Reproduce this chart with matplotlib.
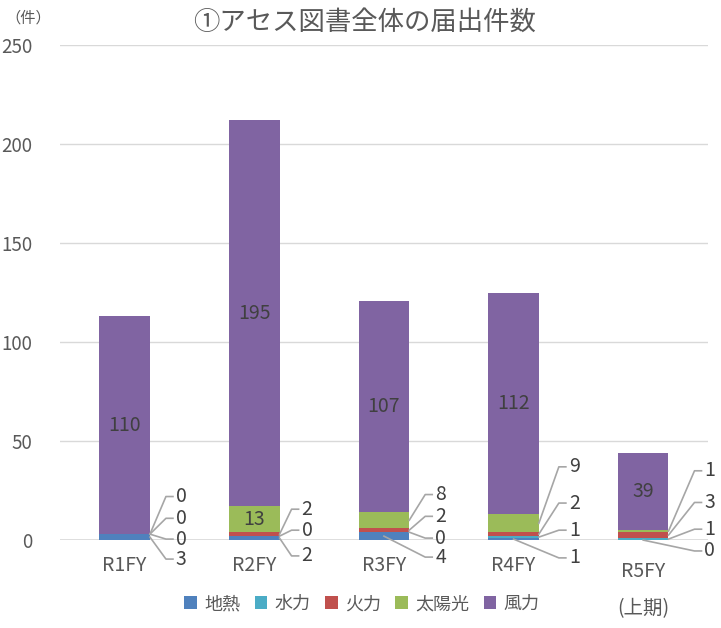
import numpy as np
import matplotlib
matplotlib.use("Agg")
import matplotlib.pyplot as plt
import matplotlib.transforms as mtransforms

plt.rcParams['font.family'] = ['Noto Sans CJK JP', 'DejaVu Sans']

categories = ["R1FY", "R2FY", "R3FY", "R4FY", "R5FY\n(上期)"]
series_names = ["地熱", "水力", "火力", "太陽光", "風力"]
geothermal = [3, 2, 4, 1, 0]
hydro = [0, 0, 0, 1, 1]
thermal = [0, 2, 2, 2, 3]
solar = [0, 13, 8, 9, 1]
wind = [110, 195, 107, 112, 39]
colors = ["#4F81BD", "#4BACC6", "#C0504D", "#9BBB59", "#8064A2"]

values = np.array([geothermal, hydro, thermal, solar, wind], dtype=float)

# where the outside labels sit (series index, label y) per bar
outside = [
    [(3, 22), (2, 11), (1, 0.5), (0, -9.6)],
    [(2, 15.6), (1, 5), (0, -8)],
    [(3, 23), (2, 12), (1, 1), (0, -8.6)],
    [(3, 37), (2, 18.7), (1, 5), (0, -9)],
    [(3, 35), (2, 19), (1, 5.5), (0, -5.5)],
]
label_off_px = [26, 22, 26, 30, 36]
inside = [[4], [3, 4], [4], [4], [4]]

fig = plt.figure(figsize=(7.21, 6.28), dpi=100)
ax = fig.add_axes([0.083, 0.140, 0.899, 0.788])

x = np.arange(len(categories))
w = 0.39
px = 1 / 129.6  # data units per pixel along x
bottom = np.zeros(len(categories))
bottoms = []
for k in range(len(series_names)):
    bottoms.append(bottom.copy())
    ax.bar(x, values[k], w, bottom=bottom, color=colors[k], label=series_names[k], zorder=3)
    bottom += values[k]

lab_col = "#404040"
for i in range(len(categories)):
    for k in inside[i]:
        ax.text(x[i], bottoms[k][i] + values[k][i] / 2, f"{int(values[k][i])}",
                ha="center", va="center", fontsize=14, color=lab_col, zorder=4)
    xl = x[i] + w / 2 + label_off_px[i] * px
    for k, yl in outside[i]:
        ymid = bottoms[k][i] + values[k][i] / 2
        if yl < 0 and i >= 2:
            xa = x[i]
        else:
            xa = x[i] + w / 2
        ax.plot([xa, xl - 10 * px, xl - 3 * px], [ymid, yl, yl],
                color="#a6a6a6", lw=1.2, zorder=5, clip_on=False)
        ax.text(xl, yl, f"{int(values[k][i])}", ha="left", va="center",
                fontsize=14, color=lab_col, zorder=5)

ax.set_xlim(-0.5, 4.5)
ax.set_ylim(0, 250)
ax.set_yticks(range(0, 251, 50))
ax.grid(axis="y", color="#d9d9d9", lw=1, zorder=0)
ax.axhline(0, color="#d9d9d9", lw=1.2, zorder=2)
for s in ax.spines.values():
    s.set_visible(False)
ax.tick_params(axis="y", length=0, pad=20, labelsize=13.5, labelcolor="#595959")
ax.tick_params(axis="x", length=0, pad=11, labelsize=14, labelcolor="#595959")
ax.set_xticks(x)
ax.set_xticklabels(categories, linespacing=2.0)
last = ax.get_xticklabels()[-1]
last.set_transform(last.get_transform() + mtransforms.ScaledTranslation(0, -4 / 72, fig.dpi_scale_trans))

fig.text(0.039, 0.971, "（件）", ha="center", va="center", fontsize=11, color="#595959")
fig.text(0.505, 0.965, "①アセス図書全体の届出件数", ha="center", va="center",
         fontsize=19, color="#595959")

ax.legend(loc="center", bbox_to_anchor=(0.502, 0.038), bbox_transform=fig.transFigure,
          ncol=5, frameon=False, fontsize=13, handlelength=0.7, handleheight=0.7,
          handletextpad=0.4, columnspacing=0.8, labelcolor="#595959")

fig.savefig("out.png", dpi=100)
